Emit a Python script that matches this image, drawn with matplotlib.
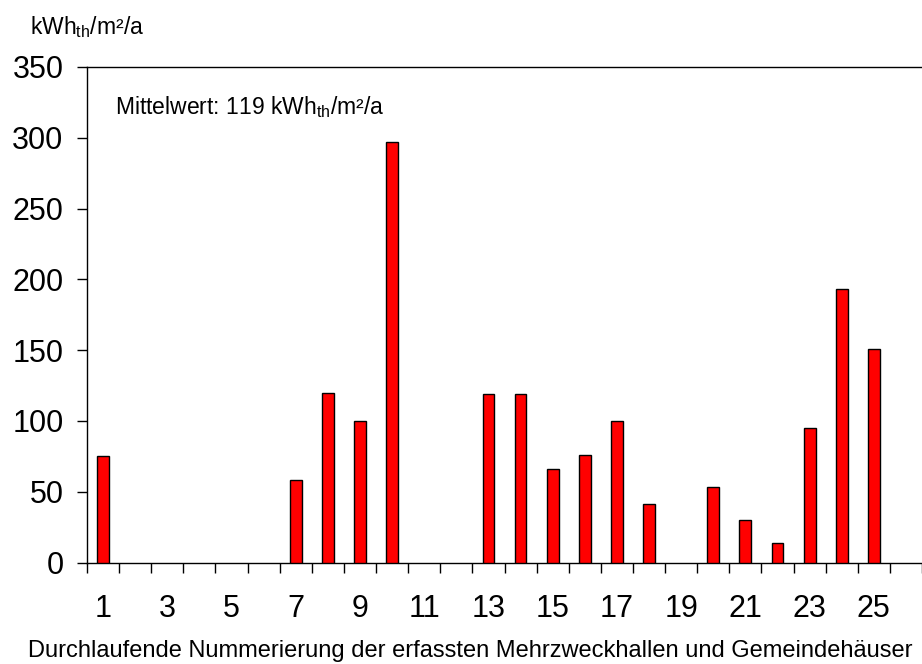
import matplotlib
matplotlib.use("Agg")
import matplotlib.pyplot as plt
import numpy as np

plt.rcParams["font.family"] = ["Liberation Sans", "DejaVu Sans"]
plt.rcParams["mathtext.fontset"] = "custom"
plt.rcParams["mathtext.rm"] = "Liberation Sans"
plt.rcParams["mathtext.it"] = "Liberation Sans:italic"

# Data: building number -> specific heat consumption (kWh_th/m²/a)
gebaeude = [1, 7, 8, 9, 10, 13, 14, 15, 16, 17, 18, 20, 21, 22, 23, 24, 25]
werte    = [75, 58, 120, 100, 297, 119, 119, 66, 76, 100, 41, 53, 30, 14, 95, 193, 151]
n_kat    = 26
xlabels  = [str(i) for i in range(1, 26, 2)]
yticks   = [0, 50, 100, 150, 200, 250, 300, 350]
mittelwert = 119

fig = plt.figure(figsize=(9.22, 6.64), dpi=100)
ax = fig.add_axes([87 / 922, 1 - 562.5 / 664, 1 - 87 / 922, (562.5 - 67) / 664])

ax.bar(gebaeude, werte, width=0.37, color="#ff0000", edgecolor="black", linewidth=1.0, zorder=3)

ax.set_xlim(0.5, n_kat + 0.5)
ax.set_ylim(0, 350)

# category labels at odd positions, tick marks between categories
ax.set_xticks(range(1, 26, 2))
ax.set_xticklabels(xlabels, fontsize=22)
ax.tick_params(axis="x", which="major", length=0, pad=22.5)
ax.set_xticks(np.arange(0.5, n_kat + 1, 1.0), minor=True)
ax.tick_params(axis="x", which="minor", length=7, width=1.0, direction="out")

ax.set_yticks(yticks)
ax.set_yticklabels([str(v) for v in yticks], fontsize=22)
ax.tick_params(axis="y", length=7, width=1.0, direction="out", pad=10)

for side in ["left", "bottom", "top"]:
    ax.spines[side].set_linewidth(1.0)
ax.spines["right"].set_visible(False)

ax.text(0.034, 0.919, r"Mittelwert: %d kWh$_{\mathrm{th}}$/m²/a" % mittelwert,
        transform=ax.transAxes, fontsize=16.5, ha="left", va="center")

fig.text(30 / 922, 1 - 27 / 664, r"kWh$_{\mathrm{th}}$/m²/a", fontsize=16.5,
         ha="left", va="center")
fig.text(470 / 922, 1 - 651 / 664,
         "Durchlaufende Nummerierung der erfassten Mehrzweckhallen und Gemeindehäuser",
         fontsize=17, ha="center", va="center")

fig.savefig("out.png", dpi=100)
